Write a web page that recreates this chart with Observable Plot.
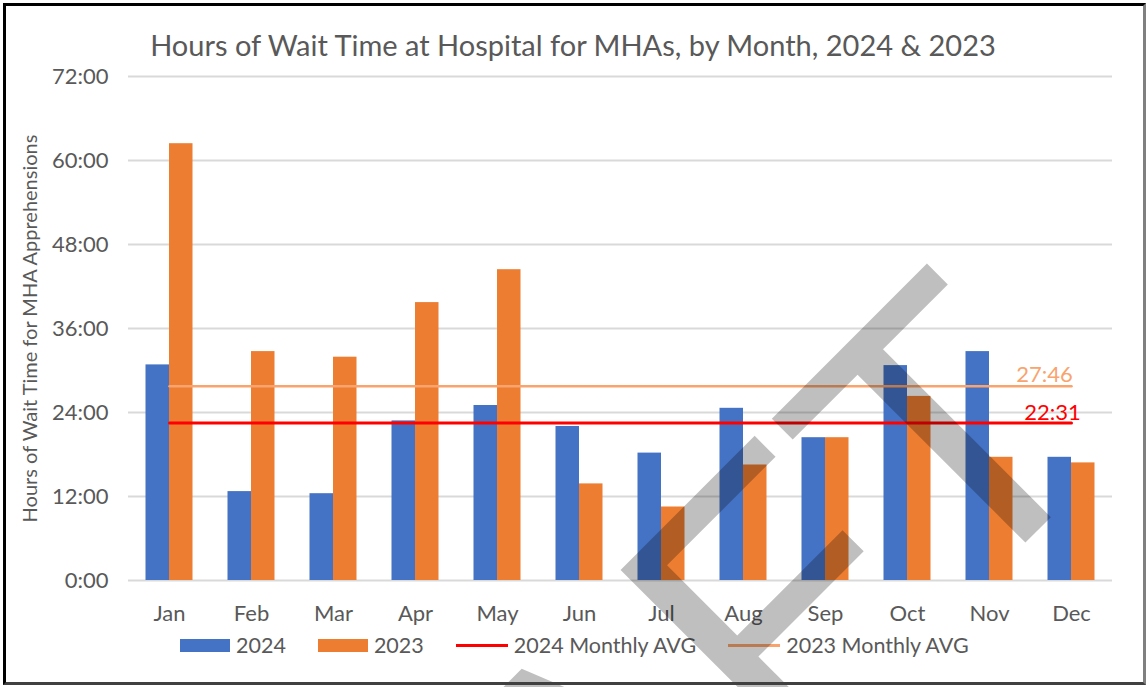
<!DOCTYPE html>
<html><head><meta charset="utf-8">
<script src="https://cdn.jsdelivr.net/npm/d3@7"></script>
<script src="https://cdn.jsdelivr.net/npm/@observablehq/plot@0.6"></script>
<style>
html,body{margin:0;padding:0;background:#fff;overflow:hidden}
#wrap{position:relative;width:1146px;height:687px;overflow:hidden;font-family:Lato,sans-serif;color:#595959;background:#fff}
#frame{position:absolute;left:3px;top:3px;width:1143px;height:682px;border-top:3px solid #000;border-left:3px solid #000;border-right:3px solid #808080;border-bottom:3px solid #404040;box-sizing:border-box;pointer-events:none}
#title{position:absolute;left:0;width:1146px;top:28px;text-align:center;font-size:29px;line-height:34px;white-space:nowrap}
#chart{position:absolute;left:0;top:0}
#legend{position:absolute;left:180px;top:632px;display:flex;gap:32px;font-size:21.5px;line-height:26px;white-space:nowrap}
.item{display:flex;align-items:center;gap:6px}
.sw{width:50px;height:13px}
.ln{width:52px;height:3px}
#wm{position:absolute;left:0;top:0;pointer-events:none}
</style>
</head><body>
<div id="wrap">
  <div id="title"></div>
  <div id="chart"></div>
  <div id="legend"></div>
  <div id="frame"></div>
</div>
<script>
// ---- data ----
const titleText = "Hours of Wait Time at Hospital for MHAs, by Month, 2024 & 2023";
const yLabel = "Hours of Wait Time for MHA Apprehensions";
const months = ["Jan","Feb","Mar","Apr","May","Jun","Jul","Aug","Sep","Oct","Nov","Dec"];
const hours2024 = [30.8, 12.7, 12.4, 22.8, 25.0, 22.0, 18.2, 24.6, 20.4, 30.7, 32.7, 17.6];
const hours2023 = [62.4, 32.7, 31.9, 39.7, 44.4, 13.8, 10.5, 16.5, 20.4, 26.3, 17.6, 16.8];
const avg2024 = 22 + 31/60;
const avg2023 = 27 + 46/60;
const avgLabel2024 = "22:31";
const avgLabel2023 = "27:46";
const yTicks = [0, 12, 24, 36, 48, 60, 72];
const yTickLabels = ["0:00","12:00","24:00","36:00","48:00","60:00","72:00"];
const seriesNames = ["2024", "2023", "2024 Monthly AVG", "2023 Monthly AVG"];
const watermark = "DRAFT";

// ---- colours ----
const c2024 = "#4472C4", c2023 = "#ED7D31", cAvg2024 = "#FF0000", cAvg2023 = "#F9A36E";

document.getElementById("title").textContent = titleText;

const rows2024 = months.map((m, i) => ({month: m, v: hours2024[i]}));
const rows2023 = months.map((m, i) => ({month: m, v: hours2023[i]}));
const avgRows24 = months.map(m => ({month: m, v: avg2024, label: avgLabel2024}));
const avgRows23 = months.map(m => ({month: m, v: avg2023, label: avgLabel2023}));

const chart = Plot.plot({
  width: 1146,
  height: 630,
  marginTop: 76,
  marginBottom: 50,
  marginLeft: 128,
  marginRight: 34,
  style: {fontFamily: "Lato, sans-serif", color: "#595959", background: "transparent"},
  x: {domain: months, padding: 0},
  y: {domain: [0, 72]},
  marks: [
    Plot.gridY(yTicks, {stroke: "#d9d9d9", strokeOpacity: 1, strokeWidth: 2}),
    Plot.axisY(yTicks, {tickSize: 0, tickPadding: 20, fontSize: 22, label: null,
      tickFormat: d => yTickLabels[yTicks.indexOf(d)]}),
    Plot.axisX({tickSize: 0, tickPadding: 25, fontSize: 22, label: null}),
    Plot.barY(rows2024, {x: "month", y: "v", fill: c2024, insetLeft: 17.5, insetRight: 41}),
    Plot.barY(rows2023, {x: "month", y: "v", fill: c2023, insetLeft: 41, insetRight: 17.5}),
    Plot.lineY(avgRows23, {x: "month", y: "v", stroke: cAvg2023, strokeWidth: 2.5}),
    Plot.lineY(avgRows24, {x: "month", y: "v", stroke: cAvg2024, strokeWidth: 3}),
    Plot.text(avgRows23.slice(-1), {x: "month", y: "v", text: "label", fill: cAvg2023, fontSize: 22,
      textAnchor: "middle", lineAnchor: "bottom", dx: -27, dy: -4}),
    Plot.text(avgRows24.slice(-1), {x: "month", y: "v", text: "label", fill: cAvg2024, fontSize: 22,
      textAnchor: "middle", lineAnchor: "bottom", dx: -19, dy: -3}),
    Plot.text([yLabel], {text: d => d, frameAnchor: "left", rotate: -90, dx: -98,
      fontSize: 20, fill: "#595959", textAnchor: "middle", lineAnchor: "middle"})
  ]
});
document.getElementById("chart").appendChild(chart);

// legend
const legend = document.getElementById("legend");
const legendDefs = [
  {name: seriesNames[0], color: c2024, kind: "sw"},
  {name: seriesNames[1], color: c2023, kind: "sw"},
  {name: seriesNames[2], color: cAvg2024, kind: "ln"},
  {name: seriesNames[3], color: cAvg2023, kind: "ln"}
];
for (const d of legendDefs) {
  const it = document.createElement("div"); it.className = "item";
  const s = document.createElement("div"); s.className = d.kind; s.style.background = d.color;
  const t = document.createElement("span"); t.textContent = d.name;
  it.appendChild(s); it.appendChild(t); legend.appendChild(it);
}

// watermark overlay
const ns = "http://www.w3.org/2000/svg";
const wm = document.createElementNS(ns, "svg");
wm.setAttribute("id", "wm"); wm.setAttribute("width", 1146); wm.setAttribute("height", 687);
const wt = document.createElementNS(ns, "text");
wt.setAttribute("x", 1122); wt.setAttribute("y", 446);
wt.setAttribute("transform", "rotate(-45 1122 446)");
wt.setAttribute("text-anchor", "end");
wt.setAttribute("font-family", "Liberation Sans, Arial, sans-serif");
wt.setAttribute("font-size", 388);
wt.setAttribute("fill", "#000"); wt.setAttribute("fill-opacity", 0.25);
wt.textContent = watermark;
wm.appendChild(wt);
document.getElementById("wrap").insertBefore(wm, document.getElementById("frame"));
</script>
</body></html>
